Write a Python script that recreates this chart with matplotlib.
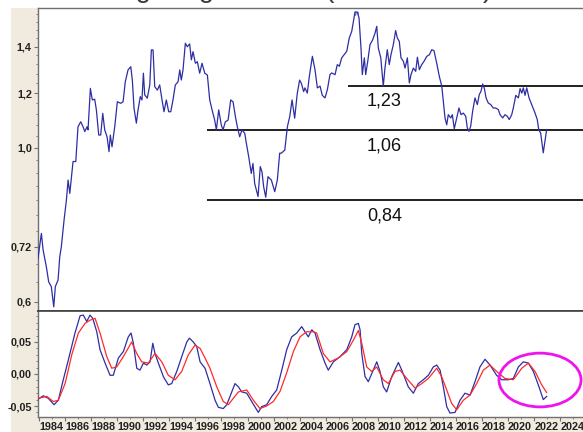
import numpy as np
import matplotlib
matplotlib.use("Agg")
import matplotlib.pyplot as plt
from matplotlib.patches import Rectangle, Ellipse

# ---- EUR/USD monthly close (upper panel, log scale) ----
fx_years = [
    1983.92, 1984.18, 1984.31, 1984.56, 1984.74, 1984.94, 1985.13, 1985.25, 1985.46, 1985.59,
    1985.71, 1985.92, 1986.10, 1986.23, 1986.36, 1986.61, 1986.82, 1986.99, 1987.20, 1987.38,
    1987.51, 1987.68, 1987.76, 1987.94, 1988.09, 1988.27, 1988.40, 1988.58, 1988.73, 1988.89,
    1989.04, 1989.22, 1989.37, 1989.47, 1989.60, 1989.81, 1990.01, 1990.27, 1990.45, 1990.62,
    1990.83, 1991.04, 1991.16, 1991.29, 1991.47, 1991.60, 1991.77, 1991.90, 1992.01, 1992.11,
    1992.31, 1992.50, 1992.62, 1992.75, 1992.88, 1993.08, 1993.26, 1993.44, 1993.59, 1993.77,
    1993.95, 1994.11, 1994.28, 1994.46, 1994.67, 1994.80, 1994.92, 1995.05, 1995.23, 1995.38,
    1995.56, 1995.69, 1995.82, 1996.00, 1996.15, 1996.33, 1996.51, 1996.72, 1996.92, 1997.10,
    1997.28, 1997.48, 1997.61, 1997.79, 1997.99, 1998.12, 1998.30, 1998.51, 1998.71, 1998.89,
    1999.07, 1999.22, 1999.40, 1999.58, 1999.79, 1999.91, 2000.09, 2000.29, 2000.42, 2000.55,
    2000.81, 2000.98, 2001.11, 2001.24, 2001.40, 2001.57, 2001.83, 2002.09, 2002.29, 2002.47,
    2002.60, 2002.86, 2003.06, 2003.24, 2003.42, 2003.62, 2003.82, 2004.00, 2004.13, 2004.31,
    2004.41, 2004.59, 2004.75, 2004.98, 2005.18, 2005.36, 2005.57, 2005.74, 2005.95, 2006.13,
    2006.33, 2006.46, 2006.72, 2006.89, 2007.05, 2007.23, 2007.41, 2007.62, 2007.81, 2008.00,
    2008.25, 2008.43, 2008.56, 2008.71, 2008.81, 2008.97, 2009.07, 2009.23, 2009.40, 2009.61,
    2009.79, 2009.92, 2010.04, 2010.23, 2010.42, 2010.55, 2010.73, 2010.88, 2011.01, 2011.19,
    2011.37, 2011.50, 2011.65, 2011.78, 2011.96, 2012.09, 2012.27, 2012.42, 2012.55, 2012.73,
    2012.91, 2013.04, 2013.19, 2013.37, 2013.55, 2013.76, 2013.96, 2014.14, 2014.31, 2014.52,
    2014.72, 2014.91, 2015.03, 2015.16, 2015.29, 2015.41, 2015.60, 2015.72, 2015.87, 2016.06,
    2016.23, 2016.39, 2016.56, 2016.75, 2016.87, 2017.00, 2017.13, 2017.28, 2017.46, 2017.64,
    2017.79, 2017.92, 2018.05, 2018.17, 2018.31, 2018.48, 2018.67, 2018.86, 2019.05, 2019.25,
    2019.38, 2019.59, 2019.76, 2019.94, 2020.09, 2020.28, 2020.40, 2020.59, 2020.79, 2020.92,
    2021.05, 2021.17, 2021.30, 2021.43, 2021.61, 2021.81, 2022.07, 2022.24, 2022.35, 2022.50,
    2022.70, 2022.83, 2022.96,
]
fx_values = [
    0.693, 0.753, 0.713, 0.674, 0.641, 0.631, 0.590, 0.631, 0.645, 0.697,
    0.720, 0.787, 0.841, 0.899, 0.860, 0.956, 0.956, 1.073, 1.091, 1.073,
    1.056, 1.073, 1.062, 1.219, 1.173, 1.176, 1.135, 1.044, 1.044, 1.122,
    1.062, 1.038, 0.988, 1.044, 1.004, 1.073, 1.166, 1.160, 1.166, 1.246,
    1.296, 1.310, 1.253, 1.141, 1.086, 1.135, 1.186, 1.173, 1.282, 1.193,
    1.180, 1.233, 1.385, 1.385, 1.226, 1.212, 1.233, 1.173, 1.128, 1.173,
    1.128, 1.128, 1.173, 1.233, 1.246, 1.296, 1.253, 1.296, 1.416, 1.400,
    1.413, 1.340, 1.377, 1.325, 1.332, 1.282, 1.325, 1.282, 1.274, 1.173,
    1.135, 1.097, 1.062, 1.135, 1.079, 1.062, 1.091, 1.097, 1.173, 1.166,
    1.110, 1.073, 1.038, 1.062, 1.050, 1.016, 0.972, 0.919, 0.950, 0.889,
    0.851, 0.940, 0.924, 0.879, 0.849, 0.909, 0.899, 0.865, 0.899, 0.983,
    0.983, 0.993, 1.073, 1.110, 1.173, 1.104, 1.199, 1.253, 1.240, 1.206,
    1.221, 1.200, 1.270, 1.356, 1.297, 1.221, 1.228, 1.191, 1.181, 1.214,
    1.276, 1.283, 1.276, 1.319, 1.312, 1.349, 1.363, 1.379, 1.441, 1.473,
    1.571, 1.571, 1.540, 1.394, 1.276, 1.349, 1.276, 1.334, 1.409, 1.433,
    1.465, 1.498, 1.394, 1.349, 1.228, 1.304, 1.386, 1.319, 1.363, 1.409,
    1.477, 1.441, 1.425, 1.349, 1.334, 1.304, 1.349, 1.241, 1.276, 1.304,
    1.290, 1.352, 1.297, 1.319, 1.334, 1.356, 1.363, 1.386, 1.382, 1.326,
    1.269, 1.228, 1.168, 1.105, 1.080, 1.117, 1.105, 1.117, 1.066, 1.105,
    1.142, 1.117, 1.123, 1.111, 1.069, 1.057, 1.075, 1.130, 1.181, 1.155,
    1.194, 1.207, 1.237, 1.221, 1.181, 1.161, 1.155, 1.142, 1.142, 1.136,
    1.117, 1.105, 1.117, 1.111, 1.099, 1.117, 1.142, 1.191, 1.181, 1.218,
    1.200, 1.221, 1.191, 1.221, 1.181, 1.155, 1.123, 1.099, 1.063, 1.051,
    0.984, 1.023, 1.063,
]

# ---- Support / resistance levels ----
level_values = [1.23, 1.06, 0.84]
level_labels = ["1,23", "1,06", "0,84"]
level_starts = [2007.71, 1996.89, 1996.89]
label_year = 2009.17

# ---- Oscillator (lower panel): fast line and its signal line ----
osc_years = [
    1983.95, 1984.33, 1984.71, 1985.15, 1985.48, 1985.86, 1986.25, 1986.76, 1987.15, 1987.40,
    1987.66, 1987.91, 1988.12, 1988.43, 1988.68, 1989.07, 1989.45, 1989.70, 1990.09, 1990.47,
    1990.85, 1991.06, 1991.24, 1991.50, 1991.75, 1992.01, 1992.27, 1992.52, 1992.73, 1992.90,
    1993.16, 1993.54, 1993.92, 1994.18, 1994.57, 1994.95, 1995.34, 1995.54, 1995.84, 1996.10,
    1996.36, 1996.74, 1997.12, 1997.51, 1997.76, 1998.14, 1998.41, 1998.79, 1999.04, 1999.30,
    1999.56, 1999.94, 2000.32, 2000.71, 2000.83, 2001.09, 2001.47, 2001.86, 2002.24, 2002.63,
    2003.01, 2003.39, 2003.78, 2004.16, 2004.41, 2004.67, 2004.93, 2005.18, 2005.57, 2005.95,
    2006.20, 2006.59, 2007.10, 2007.62, 2008.00, 2008.25, 2008.51, 2008.64, 2008.77, 2009.02,
    2009.27, 2009.61, 2009.92, 2010.17, 2010.42, 2010.68, 2011.07, 2011.58, 2011.84, 2012.09,
    2012.34, 2012.73, 2013.11, 2013.49, 2013.88, 2014.26, 2014.52, 2014.78, 2015.03, 2015.29,
    2015.54, 2015.93, 2016.31, 2016.69, 2017.08, 2017.46, 2017.84, 2018.23, 2018.61, 2019.12,
    2019.51, 2020.02, 2020.40, 2020.79, 2021.17, 2021.56, 2021.94, 2022.32, 2022.70, 2022.96,
]
osc_values = [
    -0.039, -0.034, -0.038, -0.048, -0.041, -0.009, 0.022, 0.064, 0.091, 0.092,
    0.082, 0.092, 0.087, 0.066, 0.038, 0.017, -0.002, -0.002, 0.025, 0.035,
    0.058, 0.064, 0.048, 0.009, 0.006, 0.017, 0.014, 0.019, 0.048, 0.032,
    0.017, -0.004, -0.017, -0.015, 0.004, 0.027, 0.050, 0.056, 0.050, 0.043,
    0.019, 0.009, -0.015, -0.041, -0.052, -0.054, -0.048, -0.028, -0.015, -0.020,
    -0.028, -0.030, -0.043, -0.056, -0.060, -0.051, -0.048, -0.035, -0.025, 0.006,
    0.038, 0.058, 0.064, 0.074, 0.066, 0.058, 0.069, 0.064, 0.038, 0.017,
    0.006, 0.019, 0.027, 0.038, 0.058, 0.077, 0.079, 0.069, 0.032, -0.004,
    -0.012, 0.004, 0.019, 0.004, -0.020, -0.028, -0.004, 0.018, 0.006, -0.007,
    -0.020, -0.030, -0.015, -0.009, -0.002, 0.011, 0.014, 0.006, -0.020, -0.051,
    -0.061, -0.060, -0.041, -0.030, -0.033, -0.012, 0.011, 0.023, 0.014, -0.002,
    -0.009, -0.009, -0.007, 0.011, 0.019, 0.017, 0.004, -0.017, -0.040, -0.035,
]

signal_years = [
    1983.95, 1984.59, 1985.10, 1985.48, 1986.00, 1986.51, 1987.02, 1987.53, 1987.91, 1988.30,
    1988.68, 1989.20, 1989.58, 1989.96, 1990.47, 1991.11, 1991.50, 1991.88, 1992.39, 1992.90,
    1993.42, 1993.92, 1994.44, 1994.95, 1995.46, 1995.97, 1996.36, 1996.74, 1997.12, 1997.64,
    1998.14, 1998.53, 1998.91, 1999.30, 1999.94, 2000.45, 2000.96, 2001.47, 2001.98, 2002.50,
    2003.01, 2003.52, 2004.03, 2004.54, 2005.05, 2005.31, 2005.82, 2006.33, 2006.97, 2007.62,
    2008.13, 2008.51, 2008.77, 2009.15, 2009.53, 2009.92, 2010.42, 2010.81, 2011.32, 2011.71,
    2012.22, 2012.86, 2013.37, 2013.88, 2014.52, 2014.90, 2015.29, 2015.67, 2016.06, 2016.56,
    2017.08, 2017.59, 2018.10, 2018.61, 2019.12, 2019.76, 2020.40, 2021.05, 2021.56, 2022.07,
    2022.58, 2022.96,
]
signal_values = [
    -0.038, -0.035, -0.043, -0.041, -0.015, 0.030, 0.064, 0.079, 0.084, 0.087,
    0.064, 0.027, 0.009, 0.011, 0.027, 0.050, 0.032, 0.019, 0.017, 0.032,
    0.019, -0.002, -0.009, 0.004, 0.030, 0.045, 0.040, 0.025, 0.009, -0.020,
    -0.043, -0.048, -0.038, -0.028, -0.025, -0.041, -0.054, -0.050, -0.043, -0.027,
    0.002, 0.035, 0.058, 0.066, 0.066, 0.064, 0.032, 0.019, 0.025, 0.035,
    0.053, 0.068, 0.048, 0.011, 0.004, 0.011, -0.009, -0.015, 0.004, 0.006,
    -0.007, -0.022, -0.015, -0.007, 0.009, -0.004, -0.025, -0.046, -0.056, -0.041,
    -0.033, -0.015, 0.006, 0.014, 0.004, -0.007, -0.009, 0.009, 0.017, 0.004,
    -0.017, -0.029,
]

upper_ticks = [0.6, 0.72, 1.0, 1.2, 1.4]
upper_ticklabels = ["0,6", "0,72", "1,0", "1,2", "1,4"]
lower_ticks = [-0.05, 0.0, 0.05]
lower_ticklabels = ["-0,05", "0,00", "0,05"]
year_ticks = list(range(1984, 2025, 2))

# ---- styling ----
BEIGE = "#F1EBDF"
BLUE = "#2E2EA4"
RED = "#FF2A2A"
SPINE = "#707070"
XMIN, XMAX = 1983.92, 2025.75
tick_font = dict(family="Liberation Sans", weight="bold", size=7.8, color="#222222")

fig = plt.figure(figsize=(5.83, 4.32), dpi=100, facecolor="white")

# beige frame behind the axis labels
frame = Rectangle((11 / 583, 0), 1 - 11 / 583, 1 - 8 / 432,
                  transform=fig.transFigure, facecolor=BEIGE,
                  edgecolor="none", zorder=-10)
fig.add_artist(frame)

left = 38 / 583
ax_top = fig.add_axes([left, 1 - 311 / 432, 1 - left, (311 - 8) / 432])
ax_bot = fig.add_axes([left, 1 - 416.5 / 432, 1 - left, (416.5 - 311) / 432])

# title line (runs above the canvas, only its lowest strokes show)
fig.text(58 / 583, 1 + 3 / 432, "Trading range EURO (1984 - 2022)",
         ha="left", va="baseline", fontsize=20, family="Liberation Sans",
         color="#3a3a3a")

# upper panel
ax_top.plot(fx_years, fx_values, color=BLUE, lw=0.9, zorder=3)
ax_top.set_yscale("log")
ax_top.set_ylim(0.5819, 1.592)
ax_top.set_xlim(XMIN, XMAX)
for val, lab, x0 in zip(level_values, level_labels, level_starts):
    ax_top.hlines(val, x0, XMAX, color="#202020", lw=1.4, zorder=2)
    ax_top.annotate(lab, xy=(label_year, val), xytext=(0, -5),
                    textcoords="offset points", ha="left", va="top",
                    fontsize=13, family="Liberation Sans", color="#111111")
ax_top.text(2008.4, 1.556, "M", fontsize=4.5, color="#3030C0",
            ha="center", va="center", family="DejaVu Sans Mono")

ax_top.yaxis.set_major_locator(matplotlib.ticker.FixedLocator(upper_ticks))
ax_top.yaxis.set_major_formatter(matplotlib.ticker.FixedFormatter(upper_ticklabels))
ax_top.yaxis.set_minor_locator(matplotlib.ticker.FixedLocator(
    [v for v in np.arange(0.60, 1.58, 0.04)]))
ax_top.yaxis.set_minor_formatter(matplotlib.ticker.NullFormatter())
ax_top.set_xticks([])
ax_top.tick_params(axis="y", which="major", length=3, width=0.8, color=SPINE, pad=1.5)
ax_top.tick_params(axis="y", which="minor", length=1.5, width=0.6, color=SPINE)
for lab in ax_top.get_yticklabels():
    lab.set(**tick_font)

# lower panel
ax_bot.plot(osc_years, osc_values, color=BLUE, lw=0.9, zorder=3)
ax_bot.plot(signal_years, signal_values, color=RED, lw=0.9, zorder=4)
ax_bot.set_xlim(XMIN, XMAX)
ax_bot.set_ylim(-0.0664, 0.0984)
ax_bot.add_patch(Ellipse((2022.45, -0.0094), 6.3, 0.084, fill=False,
                         edgecolor="#EE14EE", lw=2.0, zorder=5))
ax_bot.set_yticks(lower_ticks)
ax_bot.set_yticklabels(lower_ticklabels)
ax_bot.yaxis.set_minor_locator(matplotlib.ticker.MultipleLocator(0.01))
ax_bot.set_xticks(year_ticks)
ax_bot.set_xticklabels([str(y) for y in year_ticks])
ax_bot.xaxis.set_minor_locator(matplotlib.ticker.MultipleLocator(1))
ax_bot.tick_params(axis="y", which="major", length=3, width=0.8, color=SPINE, pad=1.5)
ax_bot.tick_params(axis="y", which="minor", length=1.5, width=0.6, color=SPINE)
ax_bot.tick_params(axis="x", which="major", length=3, width=0.8, color=SPINE, pad=1)
ax_bot.tick_params(axis="x", which="minor", length=1.5, width=0.6, color=SPINE)
for lab in ax_bot.get_yticklabels():
    lab.set(**tick_font)
for lab in ax_bot.get_xticklabels():
    lab.set(**tick_font)
    lab.set_horizontalalignment("left")

for ax in (ax_top, ax_bot):
    ax.set_facecolor("white")
    ax.spines["right"].set_visible(False)
    for s in ("left", "top", "bottom"):
        ax.spines[s].set_color(SPINE)
        ax.spines[s].set_linewidth(1.0)
ax_top.spines["bottom"].set_color("#404040")
ax_top.spines["bottom"].set_linewidth(1.2)
ax_bot.spines["top"].set_color("#404040")
ax_bot.spines["top"].set_linewidth(1.2)

fig.savefig("out.png", dpi=100, facecolor="white")
